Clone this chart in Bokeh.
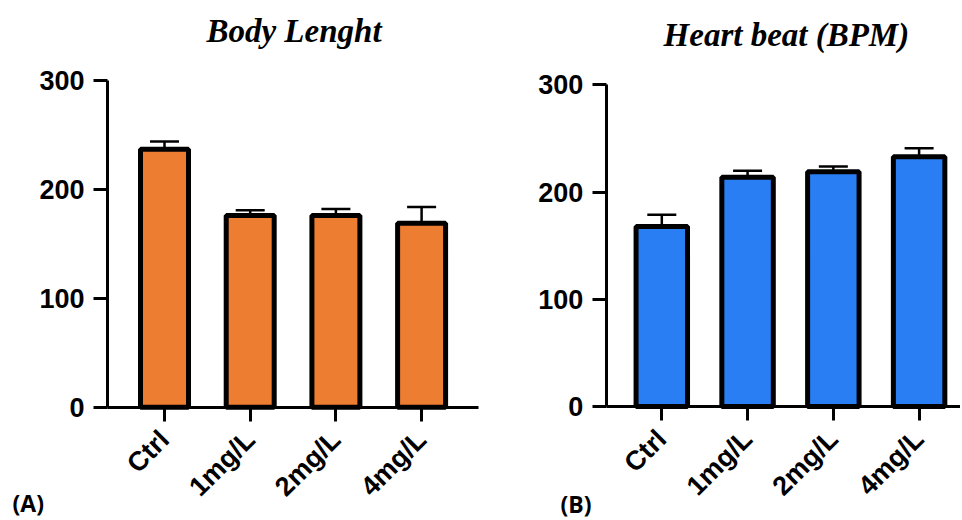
import math
from bokeh.plotting import figure
from bokeh.layouts import row
from bokeh.models import (ColumnDataSource, Range1d, FixedTicker, Whisker, TeeHead, Label)
from bokeh.embed import file_html
from bokeh.resources import INLINE

categories = ["Ctrl", "1mg/L", "2mg/L", "4mg/L"]
body_length = [237, 176, 176, 169]
body_length_err = [7, 5, 6, 15]
heart_beat = [168, 214, 219, 233]
heart_beat_err = [11, 6, 5, 8]
y_ticks = [0, 100, 200, 300]

TICK_FONT = "Liberation Sans"
TITLE_FONT = "Liberation Serif"
H = 518


def make_panel(values, errs, color, title, tag, W, geo):
    # geo: pixel geometry of the panel inside its own canvas
    ox, step, oy, sy = geo["ox"], geo["step"], geo["oy"], geo["sy"]
    fx = lambda px: (px - ox) / step
    fy = lambda py: (oy - py) / sy

    xs = list(range(len(categories)))
    src = ColumnDataSource(dict(
        x=xs, top=values, lower=values,
        upper=[v + e for v, e in zip(values, errs)],
    ))
    p = figure(width=W, height=H, output_backend="svg", toolbar_location=None,
               x_range=Range1d(fx(0), fx(W)), y_range=Range1d(fy(H), fy(0)),
               min_border=0)
    p.outline_line_color = None
    p.grid.visible = False
    p.background_fill_color = "white"
    p.border_fill_color = "white"

    p.vbar(x="x", top="top", width=geo["bar_w"], bottom=0, source=src,
           fill_color=color, line_color="black", line_width=5)

    p.add_layout(Whisker(base="x", lower="lower", upper="upper", source=src,
                         line_width=2.5, line_color="black",
                         upper_head=TeeHead(size=29, line_width=2.5, line_color="black"),
                         lower_head=None))

    for ax in (p.xaxis[0], p.yaxis[0]):
        ax.axis_line_width = 3
        ax.axis_line_color = "black"
        ax.major_tick_line_width = 3
        ax.major_tick_line_color = "black"
        ax.major_tick_in = 0
        ax.major_tick_out = 14
        ax.minor_tick_line_color = None
        ax.major_label_text_font = TICK_FONT
        ax.major_label_text_font_style = "bold"
        ax.major_label_text_color = "black"

    yax = p.yaxis[0]
    yax.fixed_location = fx(geo["yaxis_px"])
    yax.bounds = (y_ticks[0], y_ticks[-1])
    yax.ticker = FixedTicker(ticks=y_ticks)
    yax.major_label_text_font_size = "27px"
    yax.major_label_standoff = 9

    xax = p.xaxis[0]
    xax.fixed_location = 0
    xax.bounds = (fx(geo["yaxis_px"]), fx(geo["xaxis_end_px"]))
    xax.ticker = FixedTicker(ticks=xs)
    xax.major_label_overrides = {i: c for i, c in zip(xs, categories)}
    xax.major_label_orientation = math.pi / 4
    xax.major_label_text_font_size = "27px"
    xax.major_label_standoff = 14

    p.add_layout(Label(x=fx(geo["title_px"][0]), y=fy(geo["title_px"][1]), text=title,
                       text_font=TITLE_FONT, text_font_style="bold italic",
                       text_font_size="33px", text_align="center",
                       text_baseline="middle", text_color="black"))
    p.add_layout(Label(x=fx(geo["tag_px"][0]), y=fy(geo["tag_px"][1]), text=tag,
                       text_font="Open Sans", text_font_style="bold",
                       text_font_size="23px", text_align="left",
                       text_baseline="middle", text_color="black"))
    return p


geo_a = dict(ox=164.0, step=85.7, oy=406.7, sy=1.0887, bar_w=0.56,
             yaxis_px=107, xaxis_end_px=478, title_px=(293.5, 30), tag_px=(12, 502))
geo_b = dict(ox=181.3, step=85.77, oy=406.0, sy=1.0717, bar_w=0.60,
             yaxis_px=125.7, xaxis_end_px=480, title_px=(310, 34), tag_px=(80, 503))

p1 = make_panel(body_length, body_length_err, "#ED7D31", "Body Lenght", "(A)", 480, geo_a)
p2 = make_panel(heart_beat, heart_beat_err, "#287EF2", "Heart  beat (BPM)", "(B)", 480, geo_b)

layout = row(p1, p2)
open("out.html", "w").write(file_html(layout, INLINE))
